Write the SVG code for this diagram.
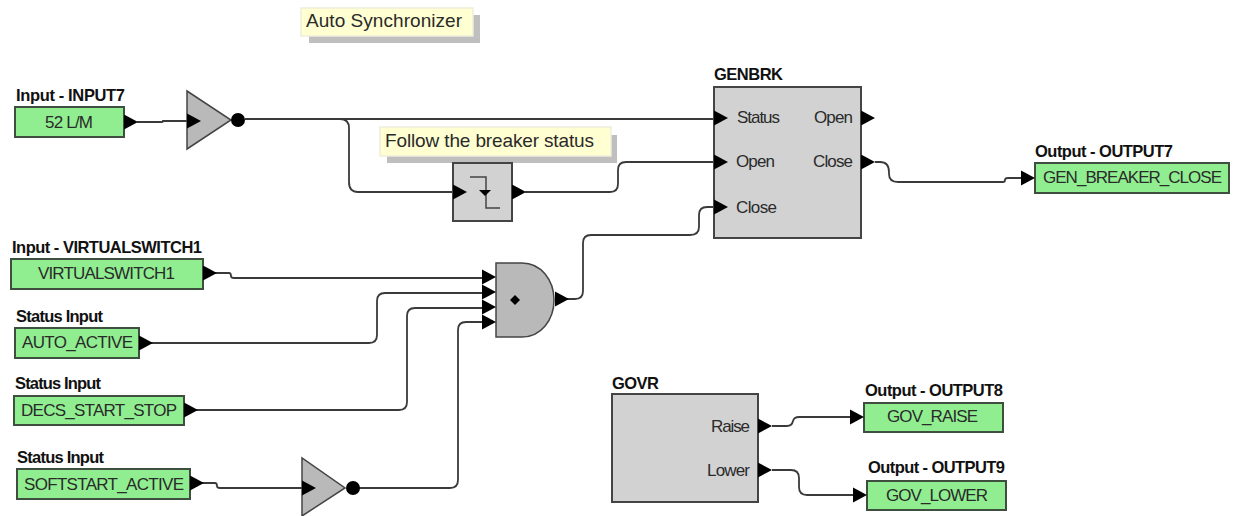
<svg xmlns="http://www.w3.org/2000/svg" width="1233" height="516" viewBox="0 0 1233 516">
<style>
text{font-family:"Liberation Sans",Arial,sans-serif;font-size:17px;fill:#2a2a2a}
.t{font-weight:bold;font-size:16.5px;fill:#111}
.n{font-size:19px}
.g{fill:#90ee90;stroke:#3f4f3f;stroke-width:2}
.b{fill:#d2d2d2;stroke:#444;stroke-width:2}
.a{fill:#b9b9b9;stroke:#444;stroke-width:1.5}
.w{fill:none;stroke:#3a3a3a;stroke-width:1.8}
.i{fill:none;stroke:#444;stroke-width:1.5}
.y{fill:#ffffd2;stroke:#eeeedc;stroke-width:1.5}
.s{fill:#bfbfbf}
</style>
<defs>
<path id="ah" fill="#000" d="M0-7.5L14 0L0 7.5Z"/>
</defs>
<rect width="1233" height="516" fill="#fff"/>
<g id="connectors">
<path class="w" d="M137 122H162Q163 122 163 121H187M245 119H716"/>
<path class="w" d="M245 119H340Q349 119 349 128V182Q349 192 358 192H454"/>
<path class="w" d="M525 192H610Q618 192 618 184V170Q618 162 626 162H716"/>
<path class="w" d="M560 299H575Q583 299 583 291V243Q583 235 591 235H690Q699 235 699 227V215Q699 207 707 207H716"/>
<path class="w" d="M215 273H229Q231 273 231 276Q231 278 234 278H485"/>
<path class="w" d="M150 343H369Q377 343 377 335V301Q377 293 385 293H485"/>
<path class="w" d="M195 410H399Q407 410 407 402V316Q407 308 415 308H485"/>
<path class="w" d="M202 483H215Q217 483 217 486Q217 488 220 488H302M353 488H450Q458 488 458 480V330Q458 322 466 322H485"/>
<path class="w" d="M875 162H880Q889 162 889 172V174Q889 182 898 182H1003Q1005 182 1005 180Q1005 178 1008 178H1022"/>
<path class="w" d="M772 426H787Q792 426 793 421Q794 417 799 417H852"/>
<path class="w" d="M772 470H791Q799 470 799 478V487Q799 495 807 495H856"/>
</g>
<g id="note-auto"><rect class="s" x="309" y="15" width="171" height="28"/><rect class="y" x="301" y="8" width="172" height="28"/><text class="n" x="306" y="27" textLength="156">Auto Synchronizer</text></g>
<g id="note-follow"><rect class="s" x="387" y="135" width="230" height="28"/><rect class="y" x="380" y="127" width="231" height="29"/><text class="n" x="385" y="147" textLength="209">Follow the breaker status</text></g>
<g id="input7"><text class="t" x="16" y="101" textLength="109">Input - INPUT7</text><rect class="g" x="15" y="107" width="109" height="30"/><text x="45" y="128" textLength="48">52 L/M</text><use href="#ah" x="124" y="122"/></g>
<g id="not1"><path class="a" d="M187 91V149L231 120Z"/><use href="#ah" x="187" y="121"/><circle cx="238" cy="120" r="7" fill="#000"/></g>
<g id="genbrk"><text class="t" x="714" y="80" textLength="69">GENBRK</text><rect class="b" x="714" y="87" width="147" height="151"/>
<use href="#ah" x="714" y="118"/><use href="#ah" x="714" y="162"/><use href="#ah" x="714" y="207"/><use href="#ah" x="861" y="118"/><use href="#ah" x="861" y="162"/>
<text x="737" y="123" textLength="43">Status</text><text x="736" y="167" textLength="39">Open</text><text x="736" y="213" textLength="41">Close</text><text x="814" y="123" textLength="39">Open</text><text x="813" y="167" textLength="40">Close</text></g>
<g id="delay"><rect class="b" x="453" y="163" width="59" height="58"/><use href="#ah" x="453" y="192"/><use href="#ah" x="512" y="192"/><path class="i" d="M470 177H486V208H500"/><path fill="#000" d="M479 190H491L485 196Z"/></g>
<g id="vswitch"><text class="t" x="12" y="253" textLength="190">Input - VIRTUALSWITCH1</text><rect class="g" x="11" y="259" width="192" height="30"/><text x="38" y="279" textLength="137">VIRTUALSWITCH1</text><use href="#ah" x="203" y="273"/></g>
<g id="auto-active"><text class="t" x="16" y="322" textLength="87">Status Input</text><rect class="g" x="15" y="328" width="124" height="30"/><text x="22" y="348" textLength="111">AUTO_ACTIVE</text><use href="#ah" x="139" y="343"/></g>
<g id="decs"><text class="t" x="15" y="389" textLength="86">Status Input</text><rect class="g" x="14" y="396" width="170" height="29"/><text x="21" y="416" textLength="156">DECS_START_STOP</text><use href="#ah" x="184" y="410"/></g>
<g id="softstart"><text class="t" x="17" y="463" textLength="87">Status Input</text><rect class="g" x="17" y="469" width="173" height="30"/><text x="24" y="490" textLength="160">SOFTSTART_ACTIVE</text><use href="#ah" x="190" y="483"/></g>
<g id="not2"><path class="a" d="M302 458V516L345 488Z"/><use href="#ah" x="302" y="488"/><circle cx="353" cy="488" r="7" fill="#000"/></g>
<g id="and"><path class="a" d="M496 263H522C541 263 554 280 554 300C554 320 541 337 522 337H496Z"/><use href="#ah" x="482" y="277"/><use href="#ah" x="482" y="292"/><use href="#ah" x="482" y="307"/><use href="#ah" x="482" y="322"/><use href="#ah" x="555" y="299"/><path fill="#000" d="M515 295L520 300L515 305L510 300Z"/></g>
<g id="gen-close"><text class="t" x="1035" y="157" textLength="138">Output - OUTPUT7</text><rect class="g" x="1035" y="163" width="194" height="30"/><text x="1043" y="183" textLength="179">GEN_BREAKER_CLOSE</text><use href="#ah" x="1021" y="178"/></g>
<g id="govr"><text class="t" x="612" y="389" textLength="47">GOVR</text><rect class="b" x="612" y="394" width="146" height="108"/><text x="711" y="432" textLength="39">Raise</text><text x="707" y="476" textLength="43">Lower</text><use href="#ah" x="758" y="426"/><use href="#ah" x="758" y="470"/></g>
<g id="gov-raise"><text class="t" x="865" y="396" textLength="138">Output - OUTPUT8</text><rect class="g" x="864" y="403" width="139" height="29"/><text x="887" y="422" textLength="91">GOV_RAISE</text><use href="#ah" x="850" y="417"/></g>
<g id="gov-lower"><text class="t" x="868" y="473" textLength="137">Output - OUTPUT9</text><rect class="g" x="867" y="481" width="139" height="29"/><text x="886" y="501" textLength="102">GOV_LOWER</text><use href="#ah" x="853" y="495"/></g>
</svg>
